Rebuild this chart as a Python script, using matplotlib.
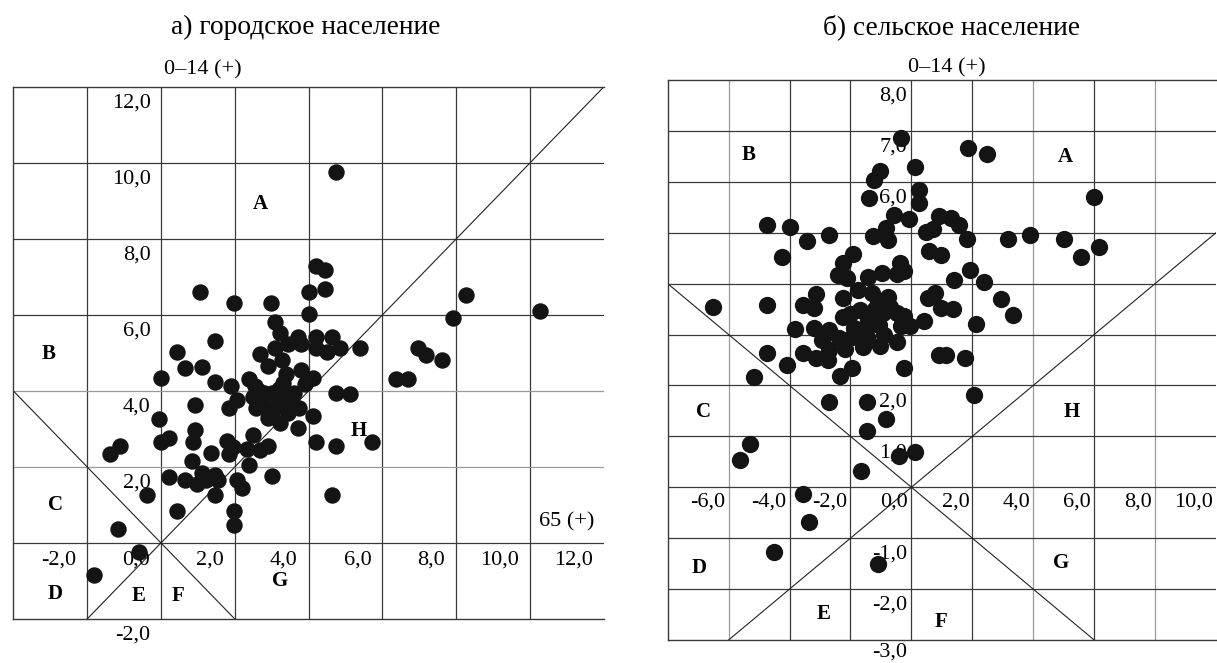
import matplotlib
matplotlib.use('Agg')
import matplotlib.pyplot as plt

plt.rcParams['font.family'] = ['Liberation Serif', 'DejaVu Serif']

# ---------------- data: urban population (a) ----------------
urban_x = [4.75, 4.21, 4.45, 4.45, 4.02, 1.07, 1.99, 2.98, 8.26, 10.27, 7.91, 4.02, 3.08, 3.22,
           3.70, 4.20, 4.62, 1.45, 3.08, 3.44, 3.78, 4.20, 4.84, 4.50, 5.40, 6.97, 7.19, 7.60,
           0.43, 2.68, 3.29, 0.64, 1.12, 2.90, 3.80, 3.38, 4.13, 2.38, 0.01, 1.47, 1.89, 2.55,
           3.89, 6.36, 6.68, 2.79, 3.21, 3.59, 4.73, 5.12, 2.06, 2.50, 3.22, 3.53, 0.91, 1.83,
           2.57, 3.06, 3.38, 3.73, 4.11, 2.91, -0.06, 3.22, 3.70, 0.91, 2.48, 0.21, 0.01, 0.86,
           4.21, 4.73, 5.72, -1.10, -1.37, 1.78, 1.95, 2.32, 2.67, 2.91, 1.36, 1.83, 0.84, 2.38,
           0.21, 0.66, 0.98, 1.12, 1.23, 1.45, 1.55, 1.45, 2.06, 2.19, 3.00, -0.38, 0.43, 1.99,
           1.99, 4.64, -1.16, -0.60, -1.82, 2.65, 3.00, 3.40, 2.75, 3.00, 3.45, 3.30, 1.30]
urban_y = [9.76, 7.28, 7.18, 6.68, 6.61, 6.61, 6.31, 6.31, 6.51, 6.11, 5.91, 6.01, 5.81, 5.51,
           5.41, 5.42, 5.42, 5.31, 5.14, 5.24, 5.22, 5.13, 5.13, 5.03, 5.12, 5.14, 4.94, 4.81,
           5.01, 4.96, 4.82, 4.61, 4.64, 4.65, 4.55, 4.45, 4.35, 4.31, 4.33, 4.23, 4.12, 4.12,
           4.18, 4.30, 4.30, 3.95, 4.05, 3.95, 3.94, 3.93, 3.76, 3.85, 3.75, 3.79, 3.63, 3.56,
           3.55, 3.55, 3.55, 3.55, 3.34, 3.28, 3.25, 3.15, 3.03, 2.97, 2.85, 2.75, 2.65, 2.65,
           2.65, 2.56, 2.65, 2.55, 2.33, 2.67, 2.52, 2.47, 2.44, 2.55, 2.36, 2.35, 2.15, 2.05,
           1.73, 1.65, 1.55, 1.85, 1.65, 1.80, 1.65, 1.25, 1.65, 1.45, 1.75, 1.27, 0.85, 0.85,
           0.47, 1.27, 0.37, -0.23, -0.83, 4.00, 3.95, 3.70, 3.62, 3.42, 3.42, 4.20, 1.70]

urban_xticks = [-2, 0, 2, 4, 6, 8, 10, 12]
urban_yticks = [12, 10, 8, 6, 4, 2, -2]
urban_vlines = [-2, 0, 2, 4, 6, 8, 10]
urban_hlines = [10, 8, 6, 0]
urban_hlines_light = [4, 2]
urban_diag_a = ([-2, 12], [-2, 12])
urban_diag_b = ([-4, 2], [4, -2])
urban_regions = {'A': (2.68, 8.91), 'B': (-3.05, 4.98), 'C': (-2.86, 1.0), 'D': (-2.86, -1.35),
                 'E': (-0.61, -1.40), 'F': (0.45, -1.40), 'G': (3.22, -1.0), 'H': (5.36, 2.95)}

# ---------------- data: rural population (b) ----------------
rural_x = [-0.34, 1.87, 2.48, 0.13, -1.03, -1.23, 0.25, -1.39, 0.25, 6.00, -0.56, -0.08, 0.92, 1.29,
           1.55, -4.75, -3.99, -0.84, 0.49, 0.72, -2.71, -1.27, -0.76, 1.81, -3.42, 3.18, 3.90, 5.01,
           6.17, 5.56, -4.25, 0.57, 0.96, -1.92, -2.23, -0.37, -2.41, -2.12, -1.43, -0.96, -0.46, -0.23,
           1.91, 1.41, 2.38, -6.50, -4.75, -3.57, -3.13, -2.23, -1.76, -1.29, -0.76, -3.19, 0.78, 0.54,
           0.96, 1.38, 2.95, 3.33, -3.82, -3.21, -2.23, -1.70, -1.41, -0.94, -0.46, -0.23, -0.05, 0.43,
           2.11, -2.71, -1.88, -1.47, -1.05, -0.34, -2.95, -2.37, -1.95, -1.47, -1.03, -0.46, -4.75, -3.57,
           -3.13, -2.71, -2.18, -4.09, -5.16, -1.95, -2.34, -0.23, 0.92, 1.14, 1.77, 2.07, -2.71, -1.45,
           -0.82, -1.45, -5.30, -5.64, -0.40, 0.13, -1.64, -3.57, -3.36, -4.52, -1.09,
           -2.74, -1.20, -0.90, -1.60, -0.70, -1.10, -2.00]
rural_y = [6.86, 6.66, 6.54, 6.29, 6.22, 6.03, 5.84, 5.68, 5.58, 5.71, 5.35, 5.27, 5.32, 5.29,
           5.15, 5.15, 5.11, 5.09, 5.01, 5.07, 4.96, 4.94, 4.86, 4.88, 4.83, 4.88, 4.96, 4.88,
           4.72, 4.52, 4.52, 4.65, 4.57, 4.58, 4.41, 4.41, 4.17, 4.11, 4.13, 4.21, 4.18, 4.24,
           4.26, 4.07, 4.03, 3.54, 3.58, 3.58, 3.79, 3.72, 3.88, 3.81, 3.73, 3.52, 3.82, 3.71,
           3.52, 3.50, 3.69, 3.39, 3.11, 3.13, 3.34, 3.49, 3.30, 3.42, 3.42, 3.36, 3.16, 3.27,
           3.21, 3.08, 3.12, 3.16, 3.19, 3.16, 2.89, 2.93, 2.96, 2.96, 2.77, 2.86, 2.63, 2.63,
           2.54, 2.69, 2.72, 2.41, 2.17, 2.35, 2.18, 2.35, 2.59, 2.59, 2.53, 1.81, 1.68, 1.68,
           1.34, 1.10, 0.85, 0.53, 0.62, 0.70, 0.32, -0.13, -0.68, -1.27, -1.51,
           2.50, 3.50, 3.00, 2.75, 3.55, 3.65, 3.40]

rural_xticks = [-6, -4, -2, 0, 2, 4, 6, 8, 10]
rural_yticks = [8, 7, 6, 2, 1, -1, -2, -3]
rural_vlines = [-4, -2, 0, 2, 6]
rural_vlines_light = [-6, 4, 8]
rural_hlines = [7, 6, 5, 4, 3, 2, 1, 0, -1, -2]
rural_diag_a = ([-8, 6], [4, -3])
rural_diag_b = ([-6, 10], [-3, 5])
rural_regions = {'A': (5.07, 6.48), 'B': (-5.34, 6.53), 'C': (-6.82, 1.47), 'D': (-6.98, -1.58),
                 'E': (-2.87, -2.49), 'F': (0.96, -2.64), 'G': (4.93, -1.49), 'H': (5.28, 1.47)}


def fmt(v):
    return f"{v:.1f}".replace('.', ',')


DARK = '#3a3a3a'
LIGHT = '#9a9a9a'
DOT = '#141414'
FS = 16

fig = plt.figure(figsize=(12.17, 6.63), dpi=100)
fig.patch.set_facecolor('white')

# ---------------- left panel ----------------
axL = fig.add_axes([13.3 / 1217, (663 - 619) / 663, (604 - 13.3) / 1217, (619 - 86.7) / 663])
axL.set_xlim(-4, 12)
axL.set_ylim(-2, 12)
axL.set_xticks([]); axL.set_yticks([])
for s in ['left', 'top', 'bottom']:
    axL.spines[s].set_color(DARK); axL.spines[s].set_linewidth(1.0)
axL.spines['right'].set_visible(False)
for v in urban_vlines:
    axL.axvline(v, color=DARK, lw=0.9, zorder=1)
for h in urban_hlines:
    axL.axhline(h, color=DARK, lw=0.9, zorder=1)
for h in urban_hlines_light:
    axL.axhline(h, color=LIGHT, lw=0.9, zorder=1)
axL.plot(*urban_diag_a, color='#222', lw=0.8, zorder=2)
axL.plot(*urban_diag_b, color='#222', lw=0.8, zorder=2)
for v in urban_xticks:
    axL.text(v - 0.3, -0.44, fmt(v), ha='right', va='center', fontsize=FS, zorder=3)
for v in urban_yticks:
    axL.text(-0.28, v - 0.42, fmt(v), ha='right', va='center', fontsize=FS, zorder=3)
for k, (x, y) in urban_regions.items():
    axL.text(x, y, k, ha='center', va='center', fontsize=15, fontweight='bold', zorder=3)
axL.text(10.99, 0.55, '65 (+)', ha='center', va='center', fontsize=FS, zorder=3)
axL.text(1.12, 12.44, '0–14 (+)', ha='center', va='center', fontsize=FS, zorder=3)
axL.scatter(urban_x, urban_y, s=140, c=DOT, linewidths=0, zorder=5)

# ---------------- right panel ----------------
axR = fig.add_axes([667.7 / 1217, (663 - 640) / 663, (1216 - 667.7) / 1217, (640 - 80) / 663])
axR.set_xlim(-8, 10)
axR.set_ylim(-3, 8)
axR.set_xticks([]); axR.set_yticks([])
for s in ['left', 'top', 'bottom']:
    axR.spines[s].set_color(DARK); axR.spines[s].set_linewidth(1.0)
axR.spines['right'].set_visible(False)
for v in rural_vlines:
    axR.axvline(v, color=DARK, lw=0.9, zorder=1)
for v in rural_vlines_light:
    axR.axvline(v, color=LIGHT, lw=0.9, zorder=1)
for h in rural_hlines:
    axR.axhline(h, color=DARK, lw=0.9, zorder=1)
axR.plot(*rural_diag_a, color='#222', lw=0.8, zorder=2)
axR.plot(*rural_diag_b, color='#222', lw=0.8, zorder=2)
for v in rural_xticks:
    axR.text(v - 0.1, -0.29, fmt(v), ha='right', va='center', fontsize=FS, zorder=3)
for v in rural_yticks:
    yy = v - 0.32 if v > -3 else v - 0.24
    axR.text(-0.15, yy, fmt(v), ha='right', va='center', fontsize=FS, zorder=3)
for k, (x, y) in rural_regions.items():
    axR.text(x, y, k, ha='center', va='center', fontsize=15, fontweight='bold', zorder=3)
axR.text(1.17, 8.24, '0–14 (+)', ha='center', va='center', fontsize=FS, zorder=3)
axR.scatter(rural_x, rural_y, s=155, c=DOT, linewidths=0, zorder=5)

# ---------------- titles ----------------
fig.text(170.7 / 1217, 1 - 27 / 663, 'а) городское население', ha='left', va='center', fontsize=19.7)
fig.text(1080 / 1217, 1 - 27 / 663, 'б) сельское население', ha='right', va='center', fontsize=19.7)

fig.savefig('out.png', dpi=100, facecolor='white')
